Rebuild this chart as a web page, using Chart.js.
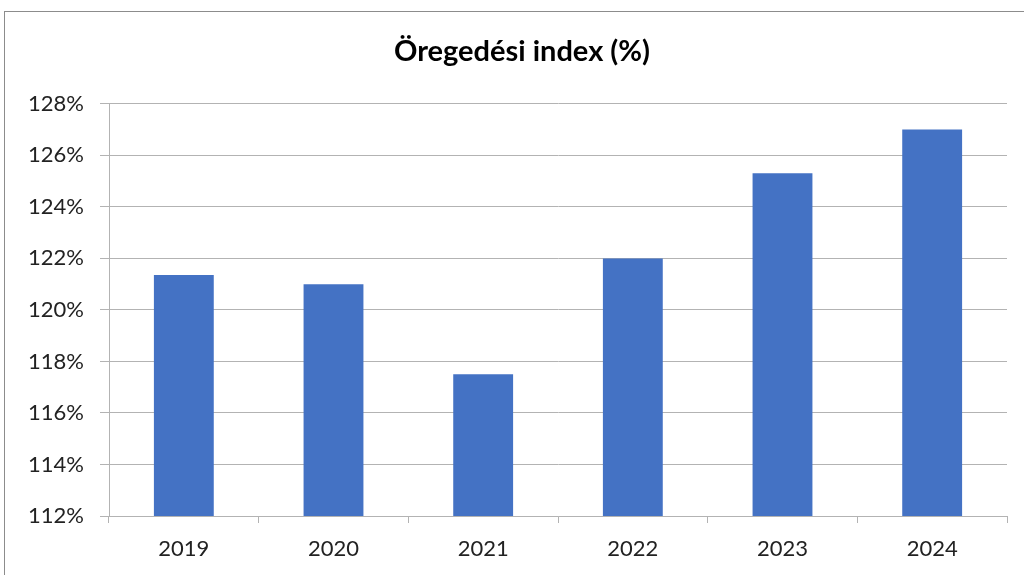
<!DOCTYPE html>
<html>
<head>
<meta charset="utf-8">
<script src="https://cdn.jsdelivr.net/npm/chart.js@4"></script>
<style>
  html, body { margin: 0; padding: 0; background: #fff; }
  #wrap { position: relative; width: 1024px; height: 575px; overflow: hidden; }
  #frame { position: absolute; left: 4px; top: 11px; width: 1100px; height: 700px;
           border-left: 1px solid #8c8c8c; border-top: 1px solid #8c8c8c; pointer-events: none; }
  canvas { position: absolute; left: 0; top: 0; }
</style>
</head>
<body>
<div id="wrap">
  <canvas id="c" width="1024" height="575"></canvas>
  <div id="frame"></div>
</div>
<script>
const title = 'Öregedési index (%)';
const categories = ['2019', '2020', '2021', '2022', '2023', '2024'];
const values = [121.35, 121.0, 117.5, 122.0, 125.3, 127.0];
const yMin = 112, yMax = 128, yStep = 2;

const fontFamily = 'Lato, "Open Sans", sans-serif';
const grid = '#b3b3b3';

new Chart(document.getElementById('c'), {
  type: 'bar',
  data: {
    labels: categories,
    datasets: [{
      data: values,
      backgroundColor: '#4472C4',
      borderWidth: 0,
      categoryPercentage: 1.0,
      barPercentage: 0.4,
      yAxisID: 'y'
    }]
  },
  options: {
    responsive: false,
    animation: false,
    devicePixelRatio: 1,
    layout: { padding: { left: 20, right: 0, top: 0, bottom: 0 } },
    plugins: {
      legend: { display: false },
      tooltip: { enabled: false },
      title: {
        display: true,
        text: title,
        color: '#000',
        font: { family: fontFamily, size: 29, weight: 'bold' },
        padding: { top: 34, bottom: 35 }
      }
    },
    scales: {
      x: {
        offset: true,
        grid: { offset: true, drawOnChartArea: false, drawTicks: true, tickLength: 7, color: grid },
        border: { display: true, color: grid, width: 1 },
        ticks: { color: '#222', padding: 13, font: { family: fontFamily, size: 22 } },
        afterFit: s => { s.height = 59; }
      },
      y: {
        position: 'left',
        min: yMin, max: yMax,
        grid: { color: grid, tickLength: 9, drawTicks: true },
        border: { display: true, color: grid, width: 1 },
        ticks: {
          stepSize: yStep,
          color: '#222',
          padding: 16,
          font: { family: fontFamily, size: 22 },
          callback: v => v + '%'
        },
        afterFit: s => { s.width = 89; }
      },
      yRightSpacer: {
        position: 'right',
        min: yMin, max: yMax,
        grid: { display: false, drawTicks: false },
        border: { display: false },
        ticks: { display: false },
        afterFit: s => { s.width = 17; }
      }
    }
  }
});
</script>
</body>
</html>
